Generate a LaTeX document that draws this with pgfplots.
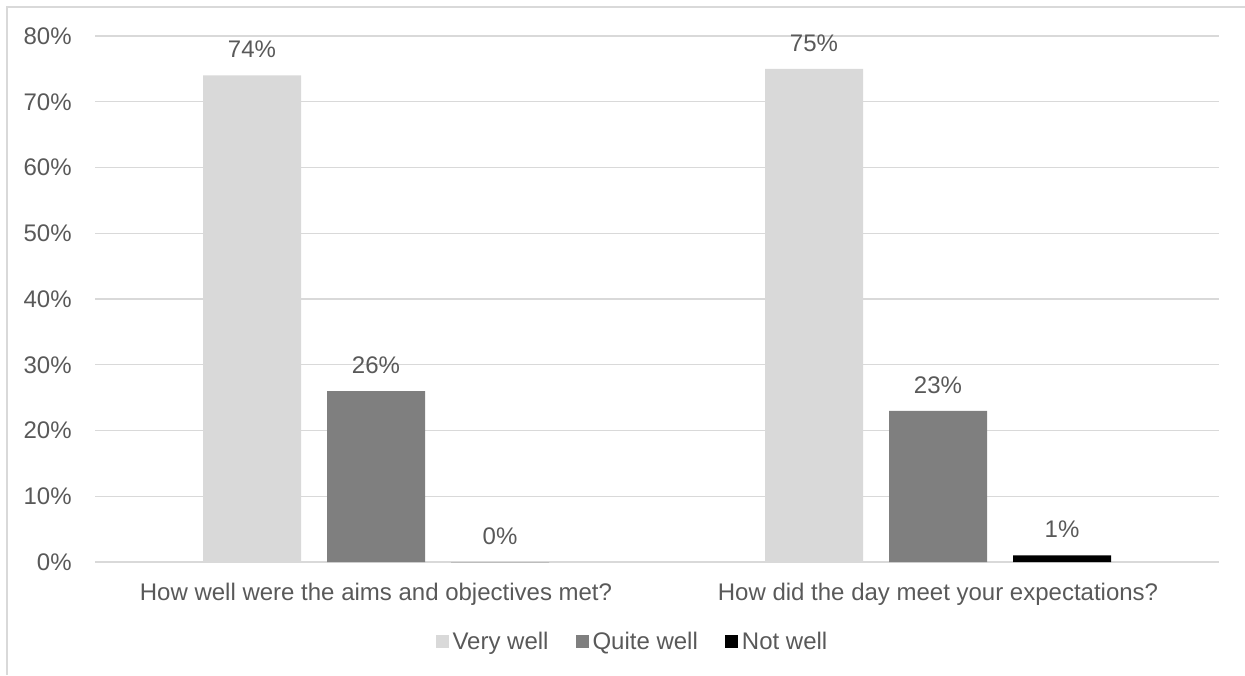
\documentclass[border=0pt]{standalone}
\usepackage{pgfplots}
\pgfplotsset{compat=1.18}
\usepackage{fontspec}
\setmainfont{Liberation Sans}
\definecolor{txt}{HTML}{595959}
\definecolor{gridc}{HTML}{D9D9D9}
\definecolor{vw}{HTML}{D9D9D9}
\definecolor{qw}{HTML}{7F7F7F}
\definecolor{nw}{HTML}{000000}
\begin{document}
\begin{tikzpicture}[x=0.5pt,y=0.5pt]
\useasboundingbox (0,0) rectangle (1245,675);
\draw[gridc, line width=0.6pt] (7,0) -- (7,668) -- (1245,668);
\coordinate (A) at (95,113);
\begin{axis}[at={(A)}, anchor=south west, scale only axis,
 width=562pt, height=263pt,
 xmin=-0.5, xmax=1.5, ymin=0, ymax=80,
 ybar=13pt, bar width=49pt,
 xtick={0,1},
 xticklabels={How well were the aims and objectives met?, How did the day meet your expectations?},
 ytick={0,10,20,30,40,50,60,70,80},
 yticklabels={0\%,10\%,20\%,30\%,40\%,50\%,60\%,70\%,80\%},
 axis line style={draw=none}, major tick length=0pt,
 ymajorgrids, grid style={gridc, line width=0.6pt},
 tick label style={font=\fontsize{12}{14.4}\selectfont, text=txt},
 yticklabel style={anchor=east, inner sep=0pt, xshift=-11.5pt},
 xticklabel style={anchor=north, inner sep=0pt, yshift=-10.5pt},
 /pgf/number format/assume math mode=true,
 nodes near coords={\pgfmathprintnumber{\pgfplotspointmeta}\%},
 every node near coord/.append style={font=\fontsize{12}{14.4}\selectfont, text=txt, anchor=south, inner sep=0pt, yshift=8.5pt},
 legend style={at={(0.479,-0.152)}, anchor=center, draw=none, fill=none,
   legend columns=3, font=\fontsize{12}{14.4}\selectfont, text=txt,
   /tikz/every even column/.append style={column sep=11.5pt},
   inner sep=0pt},
 legend image code/.code={\fill[#1] (0pt,-3.25pt) rectangle (6.5pt,3.25pt);},
]
\addplot[fill=vw, draw=none] coordinates {(0,74) (1,75)};
\addplot[fill=qw, draw=none] coordinates {(0,26) (1,23)};
\addplot[fill=nw, draw=none] coordinates {(0,0) (1,1)};
\legend{Very well, Quite well, Not well}
\end{axis}
\end{tikzpicture}
\end{document}
